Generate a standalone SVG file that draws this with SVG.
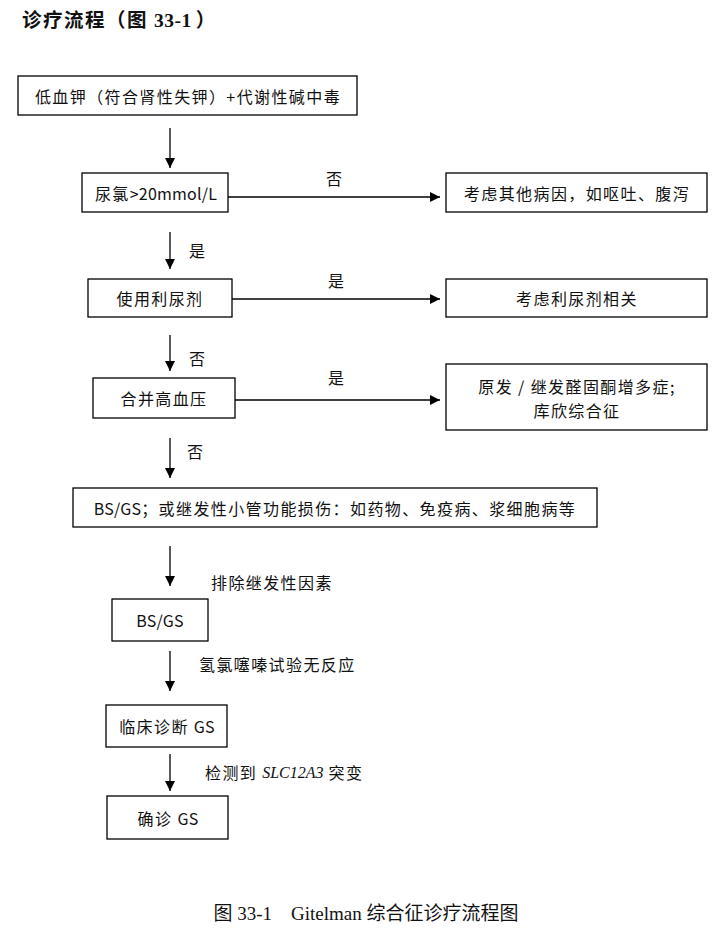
<svg xmlns="http://www.w3.org/2000/svg" width="722" height="934" viewBox="0 0 722 934">
<style>
.box{fill:#fff;stroke:#000;stroke-width:1.3}
.t{font-family:"Noto Sans CJK SC","Liberation Sans",sans-serif;font-size:16px;letter-spacing:1.4px;fill:#111;text-anchor:middle;dominant-baseline:central}
.l{font-family:"Noto Sans CJK SC","Liberation Sans",sans-serif;font-size:16px;letter-spacing:1.4px;fill:#111;dominant-baseline:central}
.la{letter-spacing:0.2px}
.c line{stroke:#000;stroke-width:1.3;marker-end:url(#ah)}
</style>
<defs>
<marker id="ah" markerWidth="10" markerHeight="10" refX="10" refY="5" orient="auto" markerUnits="userSpaceOnUse">
<path d="M0,0 L10,5 L0,10 Z" fill="#000"/>
</marker>
</defs>
<rect width="722" height="934" fill="#fff"/>
<text x="22" y="27" font-family="'Noto Sans CJK SC','Liberation Serif',sans-serif" font-size="19.5" font-weight="bold" letter-spacing="1.5" fill="#111" xml:space="preserve">诊疗流程（图 <tspan font-family="'Liberation Serif',serif" letter-spacing="0.5">33-1</tspan><tspan dx="4">）</tspan></text>

<g class="c" id="connectors">
<line x1="170" y1="128" x2="170" y2="168"/>
<line x1="228" y1="197" x2="440" y2="197"/>
<line x1="170" y1="232" x2="170" y2="269"/>
<line x1="232" y1="299" x2="440" y2="299"/>
<line x1="170" y1="335" x2="170" y2="371"/>
<line x1="235" y1="400" x2="440" y2="400"/>
<line x1="170" y1="438" x2="170" y2="478"/>
<line x1="170" y1="546" x2="170" y2="586"/>
<line x1="170" y1="651" x2="170" y2="691"/>
<line x1="170" y1="754" x2="170" y2="791"/>
<text class="l" x="326" y="178">否</text>
<text class="l" x="189" y="250">是</text>
<text class="l" x="328" y="280">是</text>
<text class="l" x="189" y="358">否</text>
<text class="l" x="328" y="377">是</text>
<text class="l" x="187" y="451">否</text>
<text class="l" x="211" y="582">排除继发性因素</text>
<text class="l" x="199" y="664">氢氯噻嗪试验无反应</text>
<text class="l" x="205" y="772">检测到 <tspan font-family="'Liberation Serif',serif" font-style="italic" letter-spacing="0">SLC12A3</tspan> 突变</text>
</g>

<g id="n1"><rect class="box" x="18" y="76" width="339" height="39"/><text class="t" x="188" y="96">低血钾（符合肾性失钾）+代谢性碱中毒</text></g>
<g id="n2"><rect class="box" x="82" y="173" width="146" height="39"/><text class="t" x="156" y="193">尿氯<tspan class="la">&gt;20mmol/L</tspan></text></g>
<g id="n3"><rect class="box" x="446" y="173" width="261" height="39"/><text class="t" x="577" y="193">考虑其他病因，如呕吐、腹泻</text></g>
<g id="n4"><rect class="box" x="88" y="279" width="144" height="38"/><text class="t" x="160" y="298">使用利尿剂</text></g>
<g id="n5"><rect class="box" x="446" y="279" width="261" height="38"/><text class="t" x="577" y="298">考虑利尿剂相关</text></g>
<g id="n6"><rect class="box" x="93" y="378" width="142" height="40"/><text class="t" x="164" y="398">合并高血压</text></g>
<g id="n7"><rect class="box" x="446" y="364" width="261" height="66"/><text class="t" x="577" y="386">原发 / 继发醛固酮增多症;</text><text class="t" x="577" y="410">库欣综合征</text></g>
<g id="n8"><rect class="box" x="73" y="488" width="524" height="39"/><text class="t" x="335" y="508"><tspan class="la">BS/GS</tspan>；或继发性小管功能损伤：如药物、免疫病、浆细胞病等</text></g>
<g id="n9"><rect class="box" x="112" y="599" width="96" height="42"/><text class="t" x="160" y="620"><tspan class="la">BS/GS</tspan></text></g>
<g id="n10"><rect class="box" x="106" y="705" width="121" height="42"/><text class="t" x="167" y="726">临床诊断 <tspan class="la">GS</tspan></text></g>
<g id="n11"><rect class="box" x="107" y="796" width="121" height="43"/><text class="t" x="168" y="818">确诊 <tspan class="la">GS</tspan></text></g>

<text x="366" y="920" text-anchor="middle" xml:space="preserve" font-family="'Liberation Serif','Noto Sans CJK SC',serif" font-size="19" fill="#111">图 33-1    Gitelman 综合征诊疗流程图</text>
</svg>
